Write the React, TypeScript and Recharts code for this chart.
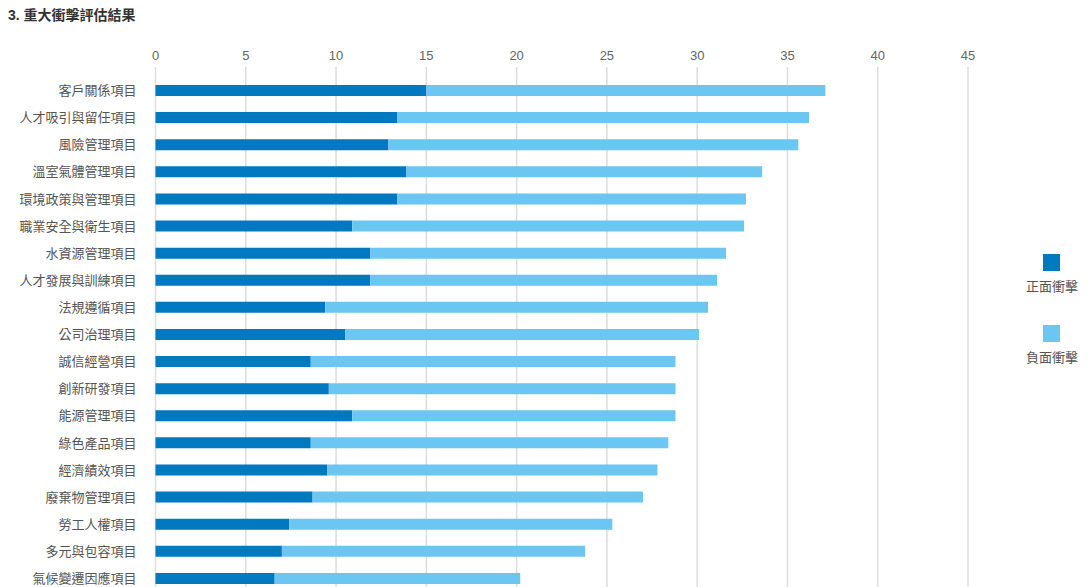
import React from 'react'
import { BarChart, Bar, XAxis, YAxis, CartesianGrid, Legend } from 'recharts'

const categories = [
  '客戶關係項目',
  '人才吸引與留任項目',
  '風險管理項目',
  '溫室氣體管理項目',
  '環境政策與管理項目',
  '職業安全與衛生項目',
  '水資源管理項目',
  '人才發展與訓練項目',
  '法規遵循項目',
  '公司治理項目',
  '誠信經營項目',
  '創新研發項目',
  '能源管理項目',
  '綠色產品項目',
  '經濟績效項目',
  '廢棄物管理項目',
  '勞工人權項目',
  '多元與包容項目',
  '氣候變遷因應項目',
]
const positive = [15.0, 13.4, 12.9, 13.9, 13.4, 10.9, 11.9, 11.9, 9.4, 10.5, 8.6, 9.6, 10.9, 8.6, 9.5, 8.7, 7.4, 7.0, 6.6]
const negative = [22.1, 22.8, 22.7, 19.7, 19.3, 21.7, 19.7, 19.2, 21.2, 19.6, 20.2, 19.2, 17.9, 19.8, 18.3, 18.3, 17.9, 16.8, 13.6]
const xTicks = [0, 5, 10, 15, 20, 25, 30, 35, 40, 45]

const data = categories.map((name, i) => ({ name, pos: positive[i], neg: negative[i] }))

const FONT = '"Liberation Sans", Arial, "Noto Sans CJK TC", sans-serif'

const renderLegend = (props: any) => {
  const { payload } = props
  return (
    <div style={{ display: 'flex', flexDirection: 'column', alignItems: 'center' }}>
      {payload.map((p: any, i: number) => (
        <div key={i} style={{ display: 'flex', flexDirection: 'column', alignItems: 'center', marginBottom: 30 }}>
          <div style={{ width: 17, height: 17, background: p.color }} />
          <div style={{ marginTop: 8, fontSize: 13, lineHeight: '16px', color: '#555', fontFamily: FONT }}>{p.value}</div>
        </div>
      ))}
    </div>
  )
}

export default function App() {
  return (
    <div style={{ position: 'absolute', left: 0, top: 0, width: 1088, height: 600, fontFamily: FONT }}>
      <div style={{ position: 'absolute', left: 8, top: 6, fontSize: 14, fontWeight: 700, color: '#333', lineHeight: '18px' }}>
        3. 重大衝擊評估結果
      </div>
      <BarChart
        width={1088}
        height={600}
        data={data}
        layout="vertical"
        // legend width (80) is added to the right offset by recharts
        margin={{ top: 37, right: 40, left: 0, bottom: 8 }}
        barSize={11}
      >
        <CartesianGrid horizontal={false} stroke="#dddddd" strokeWidth={1.5} />
        <XAxis
          type="number"
          orientation="top"
          domain={[0, 45]}
          ticks={xTicks}
          axisLine={false}
          tickLine={false}
          tickSize={0}
          tickMargin={7}
          height={30}
          tick={{ fontSize: 13, fill: '#666', fontFamily: FONT }}
        />
        <YAxis
          type="category"
          dataKey="name"
          width={155.5}
          axisLine={false}
          tickLine={false}
          tickSize={0}
          tickMargin={19}
          interval={0}
          padding={{ top: 10, bottom: 0 }}
          tick={{ fontSize: 13, fill: '#555', fontFamily: FONT }}
        />
        <Legend
          layout="horizontal"
          verticalAlign="middle"
          align="right"
          content={renderLegend}
          wrapperStyle={{ left: 1012, top: 254, width: 80, right: 'auto', bottom: 'auto' }}
        />
        <Bar dataKey="pos" name="正面衝擊" stackId="a" fill="#0079C1" isAnimationActive={false} />
        <Bar dataKey="neg" name="負面衝擊" stackId="a" fill="#6BC7F2" isAnimationActive={false} />
      </BarChart>
    </div>
  )
}
